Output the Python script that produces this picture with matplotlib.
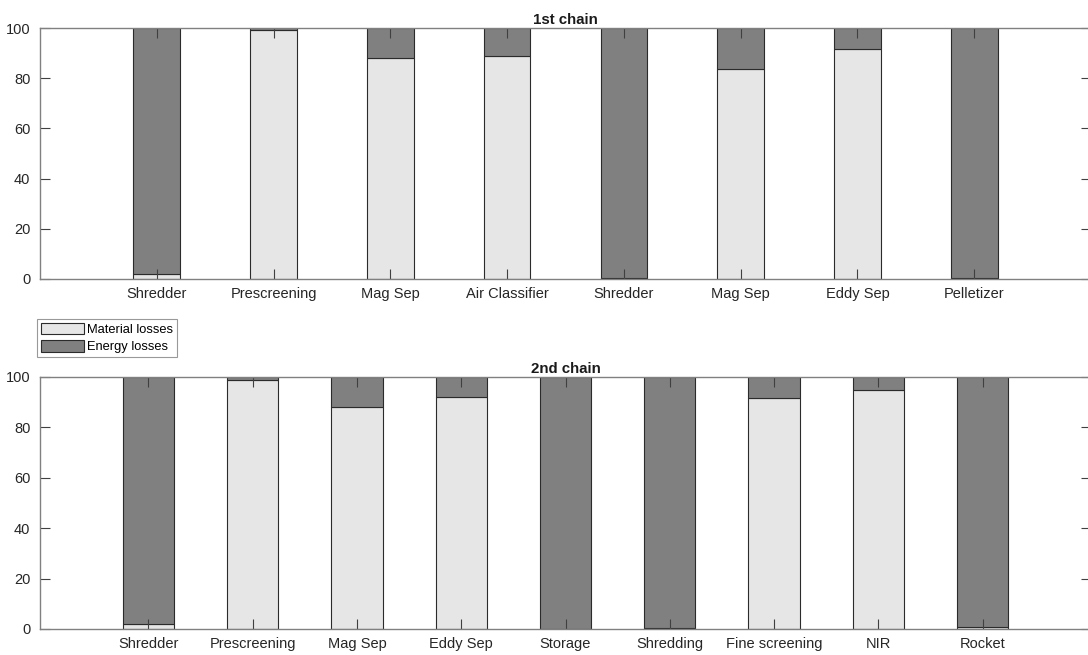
import matplotlib
matplotlib.use("Agg")
import matplotlib.pyplot as plt
from matplotlib.patches import Patch

plt.rcParams['font.family'] = ['Liberation Sans', 'DejaVu Sans']

# Data
chain1_labels = ["Shredder", "Prescreening", "Mag Sep", "Air Classifier", "Shredder",
                 "Mag Sep", "Eddy Sep", "Pelletizer"]
chain1_material = [2.0, 99.2, 88.0, 88.8, 0.5, 83.7, 91.5, 0.3]
chain1_energy = [98.0, 0.8, 12.0, 11.2, 99.5, 16.3, 8.5, 99.7]

chain2_labels = ["Shredder", "Prescreening", "Mag Sep", "Eddy Sep", "Storage",
                 "Shredding", "Fine screening", "NIR", "Rocket"]
chain2_material = [2.0, 99.0, 88.0, 92.0, 0.0, 0.5, 91.6, 94.8, 0.6]
chain2_energy = [98.0, 1.0, 12.0, 8.0, 100.0, 99.5, 8.4, 5.2, 99.4]

titles = ["1st chain", "2nd chain"]
series_names = ["Material losses", "Energy losses"]
yticks = [0, 20, 40, 60, 80, 100]

MAT_COLOR = "#e6e6e6"
EN_COLOR = "#808080"
EDGE = "#2b2b2b"
SPINE = "#808080"
TXT = "#262626"

W, H = 1088, 655
fig = plt.figure(figsize=(W / 100, H / 100), dpi=100)


def px_axes(left, top, right, bottom):
    return fig.add_axes([left / W, 1 - bottom / H, (right - left) / W, (bottom - top) / H])


ax1 = px_axes(40, 28, 1091, 279)
ax2 = px_axes(40, 377, 1091, 629)

configs = [
    (ax1, chain1_labels, chain1_material, chain1_energy, 0.4, (0, 9)),
    (ax2, chain2_labels, chain2_material, chain2_energy, 0.49, (-0.04, 10.04)),
]

for (ax, labels, mat, en, bw, xl), title in zip(configs, titles):
    xs = list(range(1, len(labels) + 1))
    ax.bar(xs, mat, width=bw, color=MAT_COLOR, edgecolor=EDGE, linewidth=0.8)
    ax.bar(xs, en, width=bw, bottom=mat, color=EN_COLOR, edgecolor=EDGE, linewidth=0.8)
    ax.set_xlim(*xl)
    ax.set_ylim(0, 100)
    ax.set_xticks(xs)
    ax.set_xticklabels(labels)
    ax.set_yticks(yticks)
    ax.tick_params(axis='both', direction='in', length=7, width=0.8, color="#404040",
                   labelsize=10.5, labelcolor=TXT, top=True, right=True)
    ax.tick_params(axis='x', pad=6)
    ax.tick_params(axis='y', pad=7)
    for s in ax.spines.values():
        s.set_color(SPINE)
        s.set_linewidth(1.0)
    ax.set_title(title, fontsize=10.8, fontweight='bold', color="#1a1a1a", pad=3)

handles = [Patch(facecolor=MAT_COLOR, edgecolor=EDGE, linewidth=0.8),
           Patch(facecolor=EN_COLOR, edgecolor=EDGE, linewidth=0.8)]
leg = fig.legend(handles, series_names, loc='upper left',
                 bbox_to_anchor=(37 / W, 1 - 319 / H), bbox_transform=fig.transFigure,
                 fontsize=9.3, frameon=True, fancybox=False, borderpad=0.3,
                 handlelength=3.3, handleheight=1.0, handletextpad=0.25,
                 labelspacing=0.3, borderaxespad=0)
leg.get_frame().set_edgecolor("#808080")
leg.get_frame().set_linewidth(0.8)

fig.savefig("out.png", dpi=100)
